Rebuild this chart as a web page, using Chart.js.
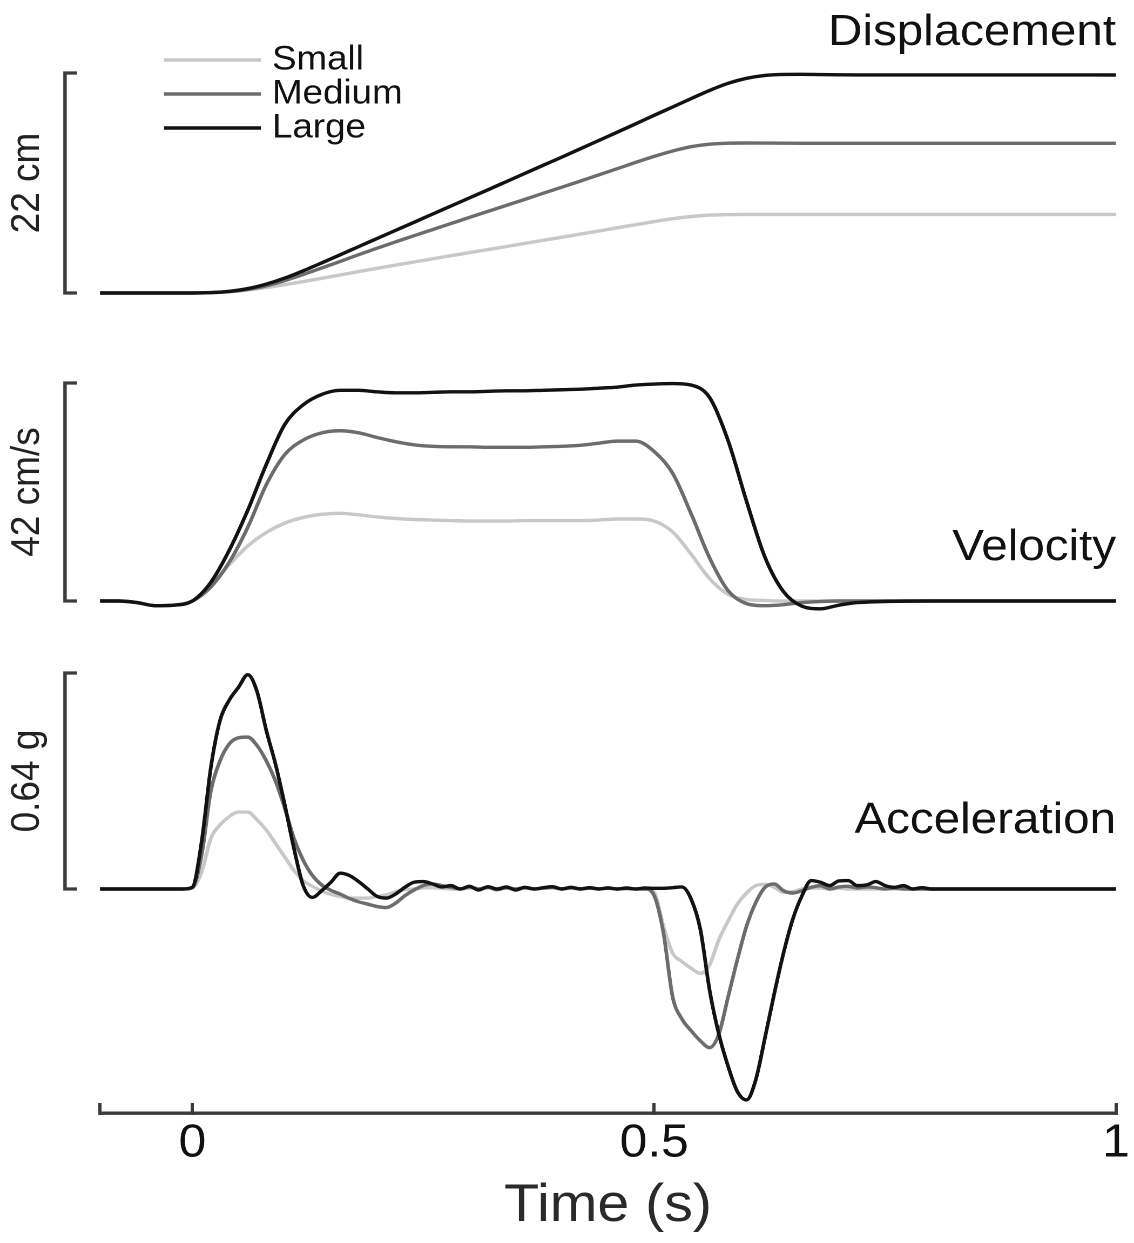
<!DOCTYPE html>
<html>
<head>
<meta charset="utf-8">
<title>Displacement, velocity and acceleration</title>
<script src="https://cdn.jsdelivr.net/npm/chart.js@4.4.1/dist/chart.umd.min.js"></script>
<style>
  html, body { margin: 0; padding: 0; background: #fff; }
</style>
</head>
<body>
<!-- the source figure is a bit wider than tall, so the canvas is drawn narrow and shown stretched -->
<canvas id="motion" width="1050" height="1243" style="width:1134px;height:1243px"></canvas>
<script>
// time grids (s)
const timeCoarse = [-0.1, -0.08, -0.06, -0.04, -0.02, 0, 0.02, 0.04, 0.06, 0.08, 0.1, 0.12, 0.14, 0.16, 0.18, 0.2,
  0.22, 0.24, 0.26, 0.28, 0.3, 0.32, 0.34, 0.36, 0.38, 0.4, 0.42, 0.44, 0.46, 0.48, 0.5, 0.52, 0.54, 0.56, 0.58, 0.6,
  0.62, 0.64, 0.66, 0.68, 0.7, 0.72, 0.8, 0.9, 1.0];
const timeFine = [-0.1, -0.05, -0.02, -0.01,
  0, 0.01, 0.02, 0.03, 0.04, 0.05, 0.06, 0.07, 0.08, 0.09,
  0.1, 0.11, 0.12, 0.13, 0.14, 0.15, 0.16, 0.17, 0.18, 0.19,
  0.2, 0.21, 0.22, 0.23, 0.24, 0.25, 0.26, 0.27, 0.28, 0.29,
  0.3, 0.31, 0.32, 0.33, 0.34, 0.35, 0.36, 0.37, 0.38, 0.39,
  0.4, 0.41, 0.42, 0.43, 0.44, 0.45, 0.46, 0.47, 0.48, 0.49,
  0.5, 0.51, 0.52, 0.53, 0.54, 0.55, 0.56, 0.57, 0.58, 0.59,
  0.6, 0.61, 0.62, 0.63, 0.64, 0.65, 0.66, 0.67, 0.68, 0.69,
  0.7, 0.71, 0.72, 0.73, 0.74, 0.75, 0.76, 0.77, 0.78, 0.79,
  0.8, 0.9, 1.0];

// displacement (cm) on timeCoarse
const dispSmall = [0, 0, 0, 0, 0, 0, 0.03, 0.13, 0.31, 0.54, 0.83, 1.14, 1.47, 1.80, 2.14, 2.47,
  2.79, 3.10, 3.42, 3.73, 4.04, 4.34, 4.65, 4.96, 5.27, 5.58, 5.89, 6.20, 6.52, 6.83, 7.14, 7.43, 7.65, 7.79, 7.84, 7.86,
  7.86, 7.86, 7.86, 7.86, 7.86, 7.86, 7.86, 7.86, 7.86];
const dispMedium = [0, 0, 0, 0, 0, 0, 0.03, 0.13, 0.36, 0.72, 1.24, 1.85, 2.50, 3.16, 3.83, 4.48,
  5.11, 5.73, 6.34, 6.95, 7.56, 8.16, 8.76, 9.36, 9.98, 10.58, 11.19, 11.81, 12.43, 13.06, 13.66, 14.20, 14.63, 14.88, 14.98, 15.0,
  14.99, 14.98, 14.97, 14.97, 14.97, 14.97, 14.97, 14.97, 14.97];
const dispLarge = [0, 0, 0, 0, 0, 0, 0.04, 0.17, 0.44, 0.89, 1.49, 2.22, 3.01, 3.82, 4.64, 5.45,
  6.26, 7.07, 7.89, 8.70, 9.51, 10.32, 11.14, 11.96, 12.78, 13.59, 14.42, 15.25, 16.08, 16.92, 17.77, 18.60, 19.44, 20.26, 20.97, 21.47,
  21.76, 21.86, 21.87, 21.84, 21.82, 21.81, 21.81, 21.81, 21.8];

// velocity (cm/s) on timeCoarse
const velSmall = [0, 0, -0.3, -0.9, -0.8, 0, 3.0, 7.0, 10.6, 13.2, 15.0, 16.1, 16.7, 16.9, 16.6, 16.2,
  15.9, 15.7, 15.6, 15.5, 15.4, 15.4, 15.4, 15.5, 15.5, 15.5, 15.5, 15.6, 15.8, 15.8, 15.4, 13.3, 9.0, 4.3, 1.3, 0.3,
  0.1, 0, 0, 0, 0, 0, 0, 0, 0];
const velMedium = [0, 0, -0.3, -0.9, -0.8, 0, 2.7, 7.5, 14.2, 22.4, 28.2, 31.0, 32.4, 32.8, 32.4, 31.5,
  30.7, 30.1, 29.8, 29.7, 29.7, 29.6, 29.6, 29.6, 29.7, 29.8, 30.0, 30.4, 30.8, 30.8, 28.8, 24.6, 16.8, 8.3, 2.0, -0.5,
  -0.9, -0.7, -0.3, -0.1, 0, 0, 0, 0, 0];
const velLarge = [0, 0, -0.3, -0.9, -0.8, 0, 3.6, 9.8, 17.5, 26.3, 34.0, 37.8, 39.8, 40.6, 40.6, 40.3,
  40.1, 40.1, 40.2, 40.3, 40.3, 40.4, 40.5, 40.5, 40.6, 40.7, 40.8, 41.0, 41.2, 41.6, 41.8, 41.9, 41.6, 39.2, 30.9, 19.2,
  8.4, 1.8, -1.0, -1.5, -0.8, -0.3, 0, 0, 0];

// acceleration (g) on timeFine
const accSmall = [0, 0, 0, 0,
  0.003, 0.05, 0.15, 0.19, 0.215, 0.228, 0.228, 0.205, 0.175, 0.135,
  0.095, 0.055, 0.025, 0.008, -0.006, -0.016, -0.022, -0.027, -0.027, -0.027,
  -0.022, -0.017, -0.008, -0.002, 0, 0.003, 0.004, 0.002, 0, 0,
  0.003, 0, 0.003, 0, 0.002, 0, 0.002, 0, 0.002, 0.003,
  0, 0.002, 0, 0.002, 0, 0.002, 0, 0, 0, 0,
  -0.01, -0.11, -0.19, -0.215, -0.235, -0.25, -0.225, -0.15, -0.095, -0.045,
  -0.012, 0.01, 0.014, 0.005, -0.01, -0.008, 0, 0.003, 0.003, 0,
  0.002, 0, 0, 0, 0, 0, 0, 0, 0, 0,
  0, 0, 0];
const accMedium = [0, 0, 0, 0,
  0.005, 0.10, 0.29, 0.38, 0.43, 0.448, 0.45, 0.425, 0.38, 0.32,
  0.24, 0.15, 0.085, 0.04, 0.012, -0.004, -0.015, -0.028, -0.038, -0.045,
  -0.052, -0.055, -0.042, -0.02, -0.003, 0.01, 0.015, 0.01, 0.005, 0,
  0.006, 0, 0.005, -0.002, 0.004, 0, 0.004, 0, 0.003, 0.005,
  0, 0.004, 0, 0.003, 0, 0.003, 0, 0.002, 0, 0,
  -0.02, -0.13, -0.32, -0.385, -0.42, -0.45, -0.47, -0.43, -0.32, -0.21,
  -0.11, -0.04, 0.005, 0.015, -0.005, -0.012, -0.005, 0.005, 0.01, 0,
  0.006, 0.008, 0.003, 0.006, 0.004, 0, 0.003, 0, 0, 0,
  0, 0, 0];
const accLarge = [0, 0, 0, 0,
  0.005, 0.14, 0.36, 0.50, 0.56, 0.598, 0.635, 0.585, 0.47, 0.37,
  0.25, 0.12, 0.01, -0.025, -0.005, 0.02, 0.047, 0.04, 0.022, 0,
  -0.022, -0.027, -0.015, 0.005, 0.02, 0.022, 0.015, 0.006, 0.01, 0,
  0.008, -0.003, 0.007, 0, 0.006, -0.003, 0.005, 0, 0.004, 0.007,
  0, 0.005, 0, 0.004, 0, 0.003, 0, 0.003, 0, 0.003,
  0.002, 0.002, 0.004, 0.006, -0.03, -0.12, -0.30, -0.43, -0.525, -0.6,
  -0.625, -0.565, -0.44, -0.31, -0.19, -0.09, -0.02, 0.025, 0.02, 0.01,
  0.024, 0.025, 0.01, 0.012, 0.022, 0.01, 0.005, 0.01, 0, 0.004,
  0, 0, 0];

const sizeLabels = ['Small', 'Medium', 'Large'];
const sizeColors = ['#c8c8c8', '#6c6c6c', '#121212'];
const panelTitles = ['Displacement', 'Velocity', 'Acceleration'];
const scaleBarValues = [22, 42, 0.64];
const scaleBarLabels = ['22 cm', '42 cm/s', '0.64 g'];
const timeTicks = [-0.1, 0, 0.5, 1];
const timeTickLabels = ['', '0', '0.5', '1'];

// layout, in pixels of the 1134 x 1243 picture
const FONT = '"Liberation Sans", Arial, Helvetica, sans-serif';
const STRETCH = 1134 / 1050;
const px = v => v / STRETCH;          // picture x -> canvas x
const PLOT_BOTTOM = 1113;             // y of the time axis line
const panelZeroY = [293, 601, 889];   // where 0 sits in each panel
const panelTopY = [73, 383, 673];     // top of each scale bar
const titleBaselineY = [45, 560, 833];

const panelAxes = ['yDisp', 'yVel', 'yAcc'];
const panelTimes = [timeCoarse, timeCoarse, timeFine];
const panelSeries = [
  [dispSmall, dispMedium, dispLarge],
  [velSmall, velMedium, velLarge],
  [accSmall, accMedium, accLarge]
];

// every panel axis spans the whole plot height; its range puts 0 and the bar value at the right rows
function bandRange(p) {
  const perPx = scaleBarValues[p] / (panelZeroY[p] - panelTopY[p]);
  return {
    min: -(PLOT_BOTTOM - panelZeroY[p]) * perPx,
    max: scaleBarValues[p] + panelTopY[p] * perPx
  };
}

const datasets = [];
panelSeries.forEach((series, p) => {
  series.forEach((vals, k) => {
    datasets.push({
      label: panelTitles[p] + ' ' + sizeLabels[k],
      data: vals.map((v, i) => ({ x: panelTimes[p][i], y: v })),
      yAxisID: panelAxes[p],
      borderColor: sizeColors[k],
      borderWidth: 3.4,
      pointRadius: 0,
      cubicInterpolationMode: 'monotone',
      order: 2 - k   // Large drawn on top
    });
  });
});

const scales = {
  x: {
    type: 'linear',
    min: -0.1,
    max: 1,
    afterBuildTicks: s => { s.ticks = timeTicks.map(v => ({ value: v })); },
    afterFit: s => {
      s.height = 1243 - PLOT_BOTTOM;
      // the layout padding already leaves room for the "1" label
      s.paddingLeft = 0;
      s.paddingRight = 0;
    },
    border: { display: true, color: '#3a3a3a', width: 3.4 },
    grid: { drawOnChartArea: false, drawTicks: true, tickLength: -10, color: '#3a3a3a', lineWidth: 3 },
    ticks: {
      autoSkip: false, maxRotation: 0, padding: 13, color: '#111',
      font: { family: FONT, size: 46 },
      callback: (v, i) => timeTickLabels[i]
    },
    title: {
      display: true, text: 'Time (s)', color: '#2a2a2a',
      font: { family: FONT, size: 53 }, padding: { top: 0, bottom: 5 }
    }
  }
};
panelAxes.forEach((id, p) => {
  const r = bandRange(p);
  scales[id] = { type: 'linear', display: false, min: r.min, max: r.max };
});

// scale bars, panel titles and the size legend
const panelDecor = {
  id: 'panelDecor',
  afterDatasetsDraw(chart) {
    const ctx = chart.ctx;
    ctx.save();
    panelAxes.forEach((id, p) => {
      const s = chart.scales[id];
      const yTop = s.getPixelForValue(scaleBarValues[p]);
      const yZero = s.getPixelForValue(0);
      ctx.strokeStyle = '#3c3c3c';
      ctx.lineWidth = 3.2;
      ctx.lineJoin = 'miter';
      ctx.beginPath();
      ctx.moveTo(px(77), yTop);
      ctx.lineTo(px(65), yTop);
      ctx.lineTo(px(65), yZero);
      ctx.lineTo(px(77), yZero);
      ctx.stroke();

      ctx.save();
      ctx.translate(px(28), (yTop + yZero) / 2);
      ctx.rotate(-Math.PI / 2);
      ctx.font = '37px ' + FONT;
      ctx.fillStyle = '#222';
      ctx.textAlign = 'center';
      ctx.textBaseline = 'middle';
      ctx.fillText(scaleBarLabels[p], 0, 0);
      ctx.restore();

      ctx.font = '44px ' + FONT;
      ctx.fillStyle = '#111';
      ctx.textAlign = 'right';
      ctx.textBaseline = 'alphabetic';
      ctx.fillText(panelTitles[p], chart.chartArea.right, titleBaselineY[p]);
    });

    sizeLabels.forEach((lab, k) => {
      const y = 60 + k * 34;
      ctx.strokeStyle = sizeColors[k];
      ctx.lineWidth = 3.6;
      ctx.beginPath();
      ctx.moveTo(px(164), y);
      ctx.lineTo(px(261), y);
      ctx.stroke();
      ctx.font = '34px ' + FONT;
      ctx.fillStyle = '#111';
      ctx.textAlign = 'left';
      ctx.textBaseline = 'middle';
      ctx.fillText(lab, px(272), y);
    });
    ctx.restore();
  }
};

new Chart(document.getElementById('motion'), {
  type: 'line',
  data: { datasets },
  options: {
    responsive: false,
    devicePixelRatio: 2,
    animation: false,
    events: [],
    layout: { padding: { left: px(100), right: 1050 - px(1116), top: 0, bottom: 0 } },
    plugins: { legend: { display: false }, tooltip: { enabled: false } },
    scales
  },
  plugins: [panelDecor]
});
</script>
</body>
</html>
